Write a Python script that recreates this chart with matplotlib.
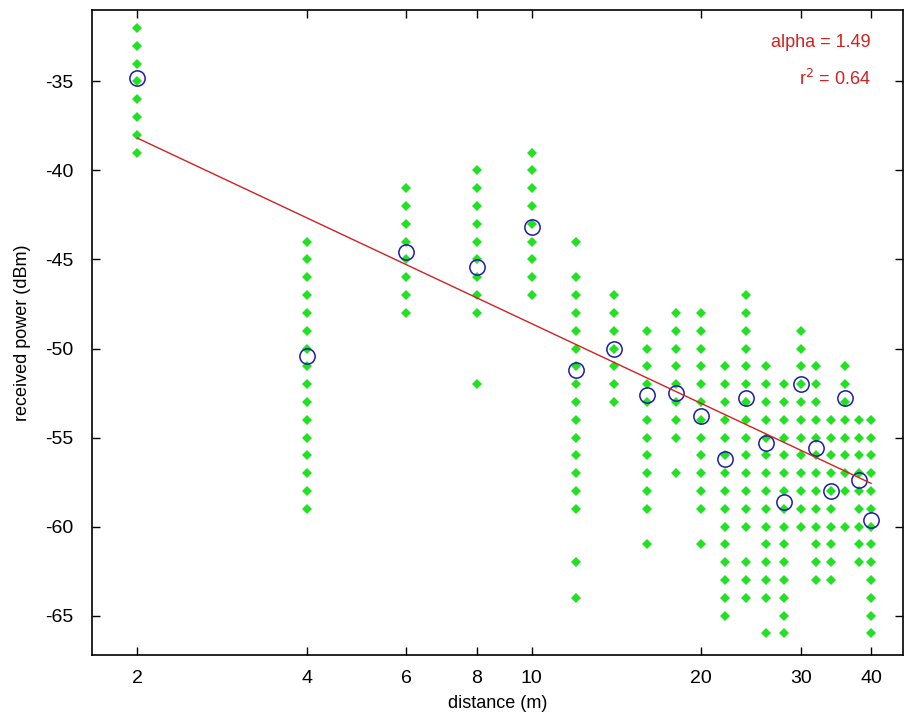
import numpy as np
import matplotlib
matplotlib.use('Agg')
import matplotlib.pyplot as plt

plt.rcParams['font.family'] = ['Liberation Sans Narrow', 'Liberation Sans', 'DejaVu Sans']
plt.rcParams['axes.unicode_minus'] = False

# distancias medidas (m) y potencia recibida (dBm) en cada una
distancias = [2, 4, 6, 8, 10, 12, 14, 16, 18, 20, 22, 24, 26, 28, 30, 32, 34, 36, 38, 40]
potencias = [
    list(range(-32, -40, -1)),
    list(range(-44, -60, -1)),
    list(range(-41, -49, -1)),
    list(range(-40, -49, -1)) + [-52],
    list(range(-39, -48, -1)),
    [-44] + list(range(-46, -60, -1)) + [-62, -64],
    list(range(-47, -54, -1)),
    list(range(-49, -60, -1)) + [-61],
    list(range(-48, -56, -1)) + [-57],
    list(range(-48, -60, -1)) + [-61],
    list(range(-51, -66, -1)),
    list(range(-47, -61, -1)) + [-62, -63, -64],
    list(range(-51, -65, -1)) + [-66],
    list(range(-52, -67, -1)),
    list(range(-49, -61, -1)),
    list(range(-51, -64, -1)),
    list(range(-54, -64, -1)),
    [-51, -52, -53, -54, -55, -56, -57, -58, -60],
    list(range(-54, -63, -1)),
    list(range(-54, -67, -1)),
]
# promedios (círculos azules)
medias = [-34.8, -50.4, -44.6, -45.4, -43.2, -51.2, -50.0, -52.6, -52.5, -53.8,
          -56.2, -52.8, -55.3, -58.6, -52.0, -55.6, -58.0, -52.8, -57.4, -59.6]

# modelo de pérdidas: P = P0 - 10*alpha*log10(d)
alpha = 1.49
p0 = -33.7
r2 = 0.64

fig = plt.figure(figsize=(9.09, 7.26), dpi=100)
ax = fig.add_axes([0.101, 0.098, 0.892, 0.888])

for d, vals in zip(distancias, potencias):
    ax.plot([d] * len(vals), vals, 'D', color='#22e022', markersize=5,
            markeredgewidth=0, zorder=2)

ax.plot(distancias, medias, 'o', markerfacecolor='none', markeredgecolor='#1c1ca8',
        markersize=11, markeredgewidth=1.1, zorder=3)

d_lin = np.array([distancias[0], distancias[-1]], dtype=float)
ax.plot(d_lin, p0 - 10 * alpha * np.log10(d_lin), color='#d42020', linewidth=1, zorder=4)

ax.set_xscale('log')
ax.set_xlim(1.66, 45.5)
ax.set_ylim(-67.2, -31)
ax.set_xticks([2, 4, 6, 8, 10, 20, 30, 40])
ax.set_xticklabels(['2', '4', '6', '8', '10', '20', '30', '40'])
ax.minorticks_off()
ax.set_yticks([-35, -40, -45, -50, -55, -60, -65])
ax.tick_params(direction='in', top=True, right=True, length=6, width=1,
               labelsize=14)
ax.tick_params(axis='x', pad=11)
ax.tick_params(axis='y', pad=13)
for s in ax.spines.values():
    s.set_linewidth(1.2)

ax.set_xlabel('distance (m)', fontsize=13, labelpad=6)
ax.set_ylabel('received power (dBm)', fontsize=13, labelpad=10)

ax.text(0.961, 0.95, 'alpha = %.2f' % alpha, transform=ax.transAxes, ha='right',
        va='center', color='#d42020', fontsize=13)
ax.text(0.961, 0.893, 'r$^2$ = %.2f' % r2, transform=ax.transAxes, ha='right',
        va='center', color='#d42020', fontsize=13)

fig.savefig('out.png', dpi=100)
